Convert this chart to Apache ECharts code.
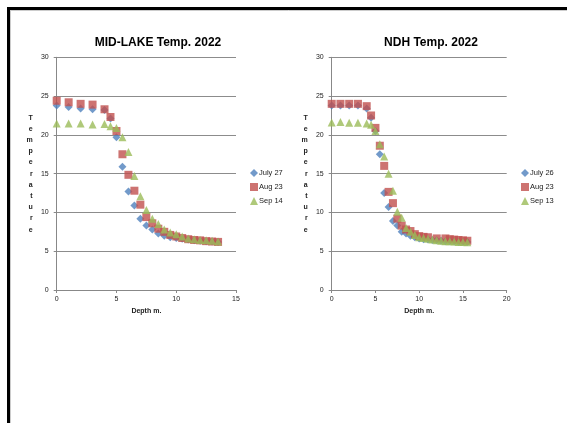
<!DOCTYPE html>
<html><head><meta charset="utf-8">
<script src="https://cdn.jsdelivr.net/npm/echarts@6/dist/echarts.min.js"></script>
<style>html,body{margin:0;padding:0;background:#fff}#c{width:567px;height:423px}</style>
</head><body><div id="c"></div>
<script>
// Left chart: MID-LAKE
const midDepthJul = [0,1,2,3,4,4.5,5,5.5,6,6.5,7,7.5,8,8.5,9,9.5,10,10.5,11,11.5,12,12.5,13,13.5];
const midTempJul27 = [23.8,23.6,23.4,23.3,23.2,22.1,19.7,15.9,12.7,10.9,9.2,8.3,7.8,7.3,7.0,6.8,6.7,6.6,6.5,6.4,6.35,6.3,6.25,6.2];
const midDepthAug = [0,1,2,3,4,4.5,5,5.5,6,6.5,7,7.5,8,8.5,9,9.5,10,10.5,11,11.5,12,12.5,13,13.5];
const midTempAug23 = [24.4,24.2,24.0,23.9,23.3,22.3,20.5,17.5,14.85,12.8,11.0,9.4,8.6,7.9,7.5,7.1,6.9,6.7,6.55,6.45,6.4,6.3,6.25,6.2];
const midDepthSep = [0,1,2,3,4,4.5,5,5.5,6,6.5,7,7.5,8,8.5,9,9.5,10,10.5,11,11.5,12,12.5,13,13.5];
const midTempSep14 = [21.45,21.45,21.45,21.35,21.4,21.1,20.9,19.7,17.8,14.7,12.1,10.3,9.2,8.5,7.8,7.4,7.2,6.9,6.65,6.55,6.45,6.4,6.35,6.25];
// Right chart: NDH
const ndhDepthJul = [0,1,2,3,4,4.5,5,5.5,6,6.5,7,7.5,8,8.5,9,9.5,10,10.5,11,11.5,12,12.5,13,13.5,14,14.5,15,15.5];
const ndhTempJul26 = [23.8,23.8,23.8,23.8,23.4,22.2,20.5,17.5,12.5,10.7,8.9,8.3,7.5,7.3,7.0,6.8,6.65,6.55,6.5,6.45,6.4,6.35,6.3,6.3,6.25,6.2,6.2,6.2];
const ndhDepthAug = [0,1,2,3,4,4.5,5,5.5,6,6.5,7,7.5,8,8.5,9,9.5,10,10.5,11,12,13,13.5,14,14.5,15,15.5];
const ndhTempAug23 = [24.0,24.0,24.0,24.0,23.7,22.5,20.9,18.6,16.0,12.65,11.2,9.2,8.3,7.8,7.6,7.2,6.95,6.85,6.8,6.65,6.65,6.55,6.5,6.45,6.4,6.35];
const ndhDepthSep = [0,1,2,3,4,4.5,5,5.5,6,6.5,7,7.5,8,8.5,9,9.5,10,10.5,11,11.5,12,12.5,13,13.5,14,14.5,15,15.5];
const ndhTempSep13 = [21.6,21.65,21.55,21.55,21.45,21.3,20.5,18.8,17.2,15.0,12.8,10.1,9.3,8.0,7.5,7.1,6.8,6.7,6.6,6.5,6.4,6.35,6.3,6.3,6.25,6.2,6.2,6.15];

const titles = ['MID-LAKE Temp. 2022','NDH Temp. 2022'];
const legendLeft = ['July 27','Aug 23','Sep 14'];
const legendRight = ['July 26','Aug 23 ','Sep 13'];
const yName = 'Temperature';
const xName = 'Depth m.';

const BLUE='#4F81BD', RED='#C0504D', GREEN='#9BBB59';
const zip = (a,b)=>a.map((v,i)=>[v,b[i]]);
const font = 'Liberation Sans, Arial, sans-serif';

function xAx(idx,max){return {gridIndex:idx,type:'value',min:0,max:max,interval:5,name:xName,nameLocation:'middle',nameGap:18,
  nameTextStyle:{fontSize:7,fontWeight:'bold',color:'#222',fontFamily:font},
  axisLine:{show:true,lineStyle:{color:'#888',width:1}},axisTick:{show:true,length:3,lineStyle:{color:'#888'}},
  axisLabel:{fontSize:7,color:'#222',margin:6,fontFamily:font},splitLine:{show:false}};}
function yAx(idx){return {gridIndex:idx,type:'value',min:0,max:30,interval:5,name:yName.split('').join('\n'),nameLocation:'middle',nameRotate:0,nameGap:24,
  nameTextStyle:{fontSize:7,fontWeight:'bold',color:'#222',lineHeight:11.2,fontFamily:font},
  axisLine:{show:true,lineStyle:{color:'#888',width:1}},axisTick:{show:true,length:3,lineStyle:{color:'#888'}},
  axisLabel:{fontSize:7,color:'#222',margin:8,fontFamily:font},splitLine:{show:true,lineStyle:{color:'#8c8c8c',width:1}}};}
function ser(name,idx,data,symbol,color,size){return {name:name,type:'scatter',xAxisIndex:idx,yAxisIndex:idx,data:data,symbol:symbol,symbolSize:size,itemStyle:{color:color}};}

const chart = echarts.init(document.getElementById('c'),null,{renderer:'canvas'});
chart.setOption({
  animation:false,
  backgroundColor:'#fff',
  title:[
    {text:titles[0],left:153,top:32,textAlign:'center',textStyle:{fontSize:12,fontWeight:'bold',color:'#000',fontFamily:font}},
    {text:titles[1],left:426,top:32,textAlign:'center',textStyle:{fontSize:12,fontWeight:'bold',color:'#000',fontFamily:font}}
  ],
  legend:[
    {data:legendLeft,orient:'vertical',left:250,top:169,padding:0,itemWidth:8,itemHeight:8,itemGap:6,textStyle:{fontSize:7.5,color:'#222',fontFamily:font,padding:[0,0,0,-4]}},
    {data:legendRight,orient:'vertical',left:521,top:169,padding:0,itemWidth:8,itemHeight:8,itemGap:6,textStyle:{fontSize:7.5,color:'#222',fontFamily:font,padding:[0,0,0,-4]}}
  ],
  grid:[
    {left:56.7,top:57.3,width:179.3,height:232.7},
    {left:331.7,top:57.3,width:175,height:232.7}
  ],
  xAxis:[xAx(0,15),xAx(1,20)],
  yAxis:[yAx(0),yAx(1)],
  series:[
    ser(legendLeft[0],0,zip(midDepthJul,midTempJul27),'diamond',BLUE,8),
    ser(legendLeft[1],0,zip(midDepthAug,midTempAug23),'rect',RED,8),
    ser(legendLeft[2],0,zip(midDepthSep,midTempSep14),'triangle',GREEN,8),
    ser(legendRight[0],1,zip(ndhDepthJul,ndhTempJul26),'diamond',BLUE,8),
    ser(legendRight[1],1,zip(ndhDepthAug,ndhTempAug23),'rect',RED,8),
    ser(legendRight[2],1,zip(ndhDepthSep,ndhTempSep13),'triangle',GREEN,8)
  ],
  graphic:[
    {type:'rect',shape:{x:7,y:7,width:560,height:3},style:{fill:'#000'},silent:true},
    {type:'rect',shape:{x:7,y:7,width:3,height:416},style:{fill:'#000'},silent:true},
    {type:'line',shape:{x1:10,y1:10.5,x2:567,y2:10.5},style:{stroke:'#ccc',lineWidth:1},silent:true},
    {type:'line',shape:{x1:10.5,y1:10,x2:10.5,y2:423},style:{stroke:'#ccc',lineWidth:1},silent:true}
  ]
});
</script></body></html>
